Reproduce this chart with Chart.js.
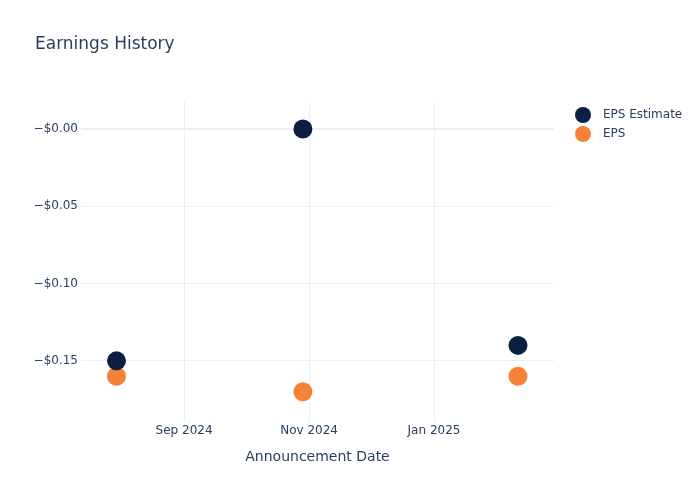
<!DOCTYPE html>
<html>
<head>
<meta charset="utf-8">
<script src="https://cdn.jsdelivr.net/npm/chart.js@4.4.1/dist/chart.umd.min.js"></script>
<style>
  html, body { margin: 0; padding: 0; background: #fff; }
  canvas { display: block; }
</style>
</head>
<body>
<canvas id="earningsChart" width="700" height="500"></canvas>
<script>
(function () {
    'use strict';

    // ─── Data ────────────────────────────────────────────────────────────────
    const dates       = ['2024-07-30', '2024-10-29', '2025-02-11'];
    const epsEstimate = [-0.15, -0.00, -0.14];
    const epsActual   = [-0.16, -0.17, -0.16];

    const xTickDates  = ['2024-09-01', '2024-11-01', '2025-01-01'];
    const xTickLabels = ['Sep 2024', 'Nov 2024', 'Jan 2025'];
    const yTicks      = [0, -0.05, -0.10, -0.15];

    const xRange = ['2024-07-12T16:00:00Z', '2025-02-28T14:00:00Z'];
    const yRange = [-0.1889, 0.0181];

    const FONT  = "'DejaVu Sans', sans-serif";
    const TEXT  = '#2a3f5f';
    const GRID  = '#ebf0f8';
    const NAVY  = '#0b1f43';
    const ORNG  = '#f68238';

    function ts(s) { return new Date(s.length === 10 ? s + 'T00:00:00Z' : s).getTime(); }
    function pts(ys) { return dates.map((d, i) => ({ x: ts(d), y: ys[i] })); }
    function money(v) { return '\u2212$' + Math.abs(v).toFixed(2); }

    // ─── Title + legend drawn on the canvas ──────────────────────────────────
    const decor = {
        id: 'decor',
        afterDraw(chart) {
            const c = chart.ctx;
            c.save();
            c.fillStyle = TEXT;
            c.textBaseline = 'middle';
            c.textAlign = 'left';
            c.font = '17px ' + FONT;
            c.fillText('Earnings History', 35, 45);

            c.font = '12px ' + FONT;
            chart.data.datasets.forEach((ds, i) => {
                const y = 115 + i * 19;
                c.beginPath();
                c.arc(583, y, 8, 0, Math.PI * 2);
                c.fillStyle = ds.backgroundColor;
                c.fill();
                c.fillStyle = TEXT;
                c.fillText(ds.label, 603, y);
            });
            c.restore();
        }
    };

    new Chart(document.getElementById('earningsChart'), {
        type: 'scatter',
        data: {
            datasets: [
                {
                    label: 'EPS Estimate',
                    data: pts(epsEstimate),
                    backgroundColor: NAVY,
                    borderColor: NAVY,
                    pointRadius: 9.5,
                    borderWidth: 0,
                },
                {
                    label: 'EPS',
                    data: pts(epsActual),
                    backgroundColor: ORNG,
                    borderColor: ORNG,
                    pointRadius: 9.5,
                    borderWidth: 0,
                },
            ],
        },
        options: {
            responsive: false,
            animation: false,
            layout: { padding: { top: 101, right: 146, left: 1, bottom: 0 } },
            plugins: {
                legend: { display: false },
                tooltip: { enabled: false },
            },
            scales: {
                x: {
                    type: 'linear',
                    min: ts(xRange[0]),
                    max: ts(xRange[1]),
                    border: { display: false },
                    grid: { color: GRID, lineWidth: 1, drawTicks: false },
                    afterBuildTicks: s => { s.ticks = xTickDates.map(d => ({ value: ts(d) })); },
                    afterFit: s => { s.height = 79; },
                    ticks: {
                        padding: 3,
                        color: TEXT,
                        font: { family: FONT, size: 12 },
                        maxRotation: 0,
                        callback: v => xTickLabels[xTickDates.map(ts).indexOf(v)],
                    },
                    title: {
                        display: true,
                        text: 'Announcement Date',
                        color: TEXT,
                        font: { family: FONT, size: 14 },
                        padding: { top: 0, bottom: 34.6 },
                    },
                },
                y: {
                    min: yRange[0],
                    max: yRange[1],
                    border: { display: false },
                    grid: {
                        color: GRID,
                        lineWidth: ctx => (ctx.tick && ctx.tick.value === 0 ? 2 : 1),
                        drawTicks: false,
                    },
                    afterBuildTicks: s => { s.ticks = yTicks.map(v => ({ value: v })); },
                    afterFit: s => { s.width = 80; },
                    ticks: {
                        padding: 3,
                        color: TEXT,
                        font: { family: FONT, size: 12 },
                        callback: v => money(v),
                    },
                },
            },
        },
        plugins: [decor],
    });
})();
</script>
</body>
</html>
